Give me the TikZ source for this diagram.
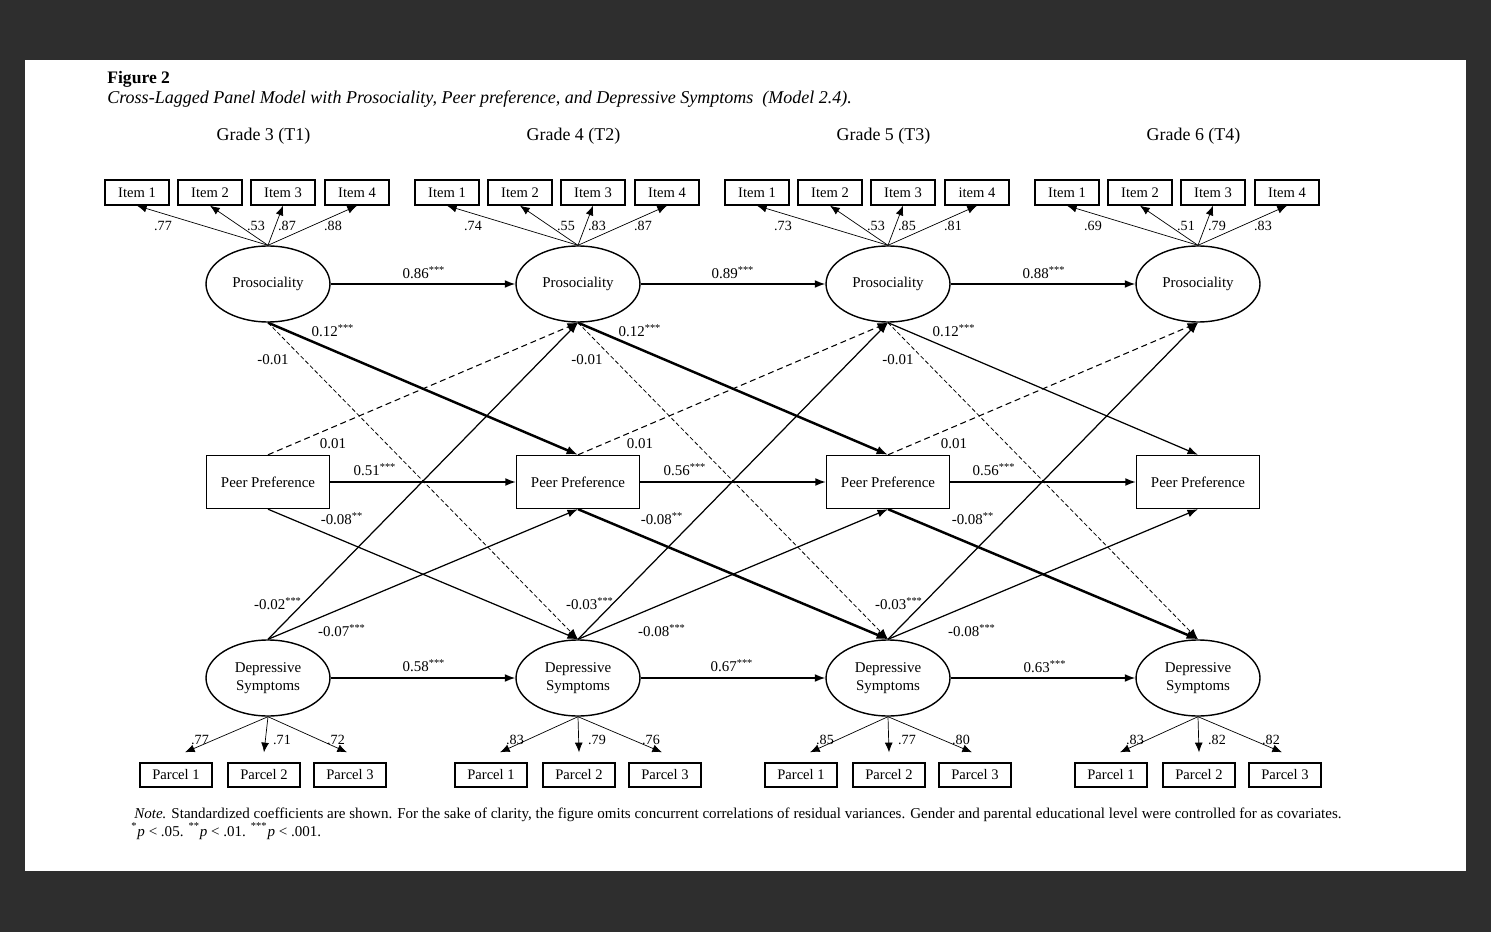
\documentclass[tikz,border=0pt]{standalone}
\usepackage{fontspec}
\setmainfont{Liberation Serif}
\usetikzlibrary{arrows.meta,shapes.geometric}

\definecolor{bgdark}{RGB}{46,46,46}

\tikzset{
  latent/.style={ellipse, draw, line width=0.8pt, minimum width=2.48cm,
    minimum height=1.52cm, inner sep=0pt, align=center,
    font=\fontsize{8.5}{10.2}\selectfont},
  peerbox/.style={rectangle, draw, line width=0.8pt, minimum width=2.46cm,
    minimum height=1.06cm, font=\fontsize{8.5}{10.2}\selectfont},
  itembox/.style={rectangle, draw, line width=0.8pt, minimum width=1.28cm,
    minimum height=0.5cm, inner sep=0pt, font=\fontsize{8.3}{10}\selectfont},
  parcbox/.style={itembox, minimum width=1.44cm, minimum height=0.48cm},
  grade/.style={font=\fontsize{10.2}{12}\selectfont},
  coef/.style={inner sep=0pt, font=\fontsize{8.5}{10}\selectfont},
  loadcoef/.style={inner sep=0pt, font=\fontsize{8}{10}\selectfont},
  loadarrow/.style={-{Latex[length=5.5pt,width=4.5pt]}, line width=0.4pt},
  autoreg/.style={-{Latex[length=6pt,width=4.5pt]}, line width=0.85pt},
  cross/.style={-{Latex[length=6pt,width=4.5pt]}, line width=0.7pt},
  crossthick/.style={-{Latex[length=6.5pt,width=5pt]}, line width=1.4pt},
  dashthin/.style={-{Latex[length=6pt,width=4.5pt]}, line width=0.45pt,
    dash pattern=on 2.4pt off 1.4pt},
  dashmid/.style={-{Latex[length=6pt,width=4.5pt]}, line width=0.6pt,
    dash pattern=on 3.4pt off 2.2pt}
}

\begin{document}
\begin{tikzpicture}[x=0.02cm, y=-0.02cm]
  % page and white panel
  \fill[bgdark] (0,0) rectangle (1491,932);
  \fill[white] (25,60) rectangle (1466,871);
  \useasboundingbox (0,0) rectangle (1491,932);

  % title
  \node[anchor=base west, inner sep=0pt, font=\bfseries\fontsize{10}{12}\selectfont]
    (figno) at (107,84) {Figure 2};
  \node[anchor=base west, inner sep=0pt, font=\itshape\fontsize{10.26}{12}\selectfont]
    (figtitle) at (107,104)
    {Cross-Lagged Panel Model with Prosociality, Peer preference, and Depressive Symptoms\ \ (Model 2.4).};

  % grade headings
  \foreach \c/\x/\g in {1/268/3, 2/578/4, 3/888/5, 4/1198/6}
    \node[grade] (grade\c) at (\x-4.5,136) {Grade \g\ (T\c)};

  % constructs
  \foreach \c/\x in {1/268, 2/578, 3/888, 4/1198} {
    \node[latent] (pro\c) at (\x,284) {Prosociality};
    \node[peerbox] (peer\c) at (\x,482) {Peer Preference};
    \node[latent] (dep\c) at (\x,678) {Depressive\\Symptoms};
  }

  % prosociality items
  \foreach \c/\x/\four/\la/\lb/\lc/\ld in {1/268/Item/.77/.53/.87/.88,
      2/578/Item/.74/.55/.83/.87, 3/888/item/.73/.53/.85/.81,
      4/1198/Item/.69/.51/.79/.83} {
    \foreach \i/\dx in {1/-131, 2/-58, 3/15}
      \node[itembox] (item\c\i) at (\x+\dx,192.5) {Item \i};
    \node[itembox] (item\c4) at (\x+89,192.5) {\four\ 4};
    \foreach \i in {1,2,3,4}
      \draw[loadarrow] (pro\c.north) -- (item\c\i.south);
    \node[loadcoef] (li\c1) at (\x-105,226) {\la};
    \node[loadcoef] (li\c2) at (\x-12,226) {\lb};
    \node[loadcoef] (li\c3) at (\x+19,226) {\lc};
    \node[loadcoef] (li\c4) at (\x+65,226) {\ld};
  }

  % depression parcels
  \foreach \c/\x/\la/\lb/\lc in {1/263/.77/.71/.72, 2/578/.83/.79/.76,
      3/888/.85/.77/.80, 4/1198/.83/.82/.82} {
    \foreach \j/\dx/\tx in {1/-87/0.18cm, 2/1/0cm, 3/87/-0.06cm} {
      \node[parcbox] (parc\c\j) at (\x+\dx,775) {Parcel \j};
      \draw[loadarrow] (dep\c.south) -- ([xshift=\tx, yshift=0.2cm]parc\c\j.north);
    }
    \node[loadcoef] (lp\c1) at (\x-63,740) {\la};
    \node[loadcoef] (lp\c2) at (\x+19,740) {\lb};
    \node[loadcoef] (lp\c3) at (\x+73,740) {\lc};
  }

  % stability and cross-lagged paths
  \foreach \s/\t in {1/2, 2/3, 3/4} {
    \draw[autoreg] (pro\s) -- (pro\t);
    \draw[autoreg] (peer\s) -- (peer\t);
    \draw[autoreg] (dep\s) -- (dep\t);
    \draw[dashthin] (pro\s.south) -- (dep\t.north);
    \draw[dashmid] (peer\s.north) -- (pro\t.south);
    \draw[cross] (dep\s.north) -- (pro\t.south);
    \draw[cross] (dep\s.north) -- (peer\t.south);
  }
  \draw[crossthick] (pro1.south) -- (peer2.north);
  \draw[crossthick] (pro2.south) -- (peer3.north);
  \draw[cross] (pro3.south) -- (peer4.north);
  \draw[cross] (peer1.south) -- (dep2.north);
  \draw[crossthick] (peer2.south) -- (dep3.north);
  \draw[crossthick] (peer3.south) -- (dep4.north);

  % coefficients T1 -> T2
  \node[coef] (c12a) at (424,273) {0.86\textsuperscript{***}};
  \node[coef] (c12b) at (375,470) {0.51\textsuperscript{***}};
  \node[coef] (c12c) at (424,666) {0.58\textsuperscript{***}};
  \node[coef] (c12d) at (333,331) {0.12\textsuperscript{***}};
  \node[coef] (c12e) at (273,360) {-0.01};
  \node[coef] (c12f) at (333,444) {0.01};
  \node[coef] (c12g) at (342,519) {-0.08\textsuperscript{**}};
  \node[coef] (c12h) at (278,604) {-0.02\textsuperscript{***}};
  \node[coef] (c12i) at (342,631) {-0.07\textsuperscript{***}};

  % coefficients T2 -> T3
  \node[coef] (c23a) at (733,273) {0.89\textsuperscript{***}};
  \node[coef] (c23b) at (685,470) {0.56\textsuperscript{***}};
  \node[coef] (c23c) at (732,666) {0.67\textsuperscript{***}};
  \node[coef] (c23d) at (640,331) {0.12\textsuperscript{***}};
  \node[coef] (c23e) at (587,360) {-0.01};
  \node[coef] (c23f) at (640,444) {0.01};
  \node[coef] (c23g) at (662,519) {-0.08\textsuperscript{**}};
  \node[coef] (c23h) at (590,604) {-0.03\textsuperscript{***}};
  \node[coef] (c23i) at (662,631) {-0.08\textsuperscript{***}};

  % coefficients T3 -> T4
  \node[coef] (c34a) at (1044,273) {0.88\textsuperscript{***}};
  \node[coef] (c34b) at (994,470) {0.56\textsuperscript{***}};
  \node[coef] (c34c) at (1045,667) {0.63\textsuperscript{***}};
  \node[coef] (c34d) at (954,331) {0.12\textsuperscript{***}};
  \node[coef] (c34e) at (898,360) {-0.01};
  \node[coef] (c34f) at (954,444) {0.01};
  \node[coef] (c34g) at (973,519) {-0.08\textsuperscript{**}};
  \node[coef] (c34h) at (899,604) {-0.03\textsuperscript{***}};
  \node[coef] (c34i) at (972,631) {-0.08\textsuperscript{***}};

  % note
  \node[anchor=base west, inner sep=0pt, font=\fontsize{8.55}{10}\selectfont]
    (note) at (134,818) {\textit{Note.} Standardized coefficients are shown. For the sake of clarity, the figure omits concurrent correlations of residual variances. Gender and parental educational level were controlled for as covariates.};
  \node[anchor=base west, inner sep=0pt, font=\fontsize{8.55}{10}\selectfont]
    (sig) at (131,836) {\textsuperscript{*}\textit{p} < .05. \textsuperscript{**}\textit{p} < .01. \textsuperscript{***}\textit{p} < .001.};
\end{tikzpicture}
\end{document}
